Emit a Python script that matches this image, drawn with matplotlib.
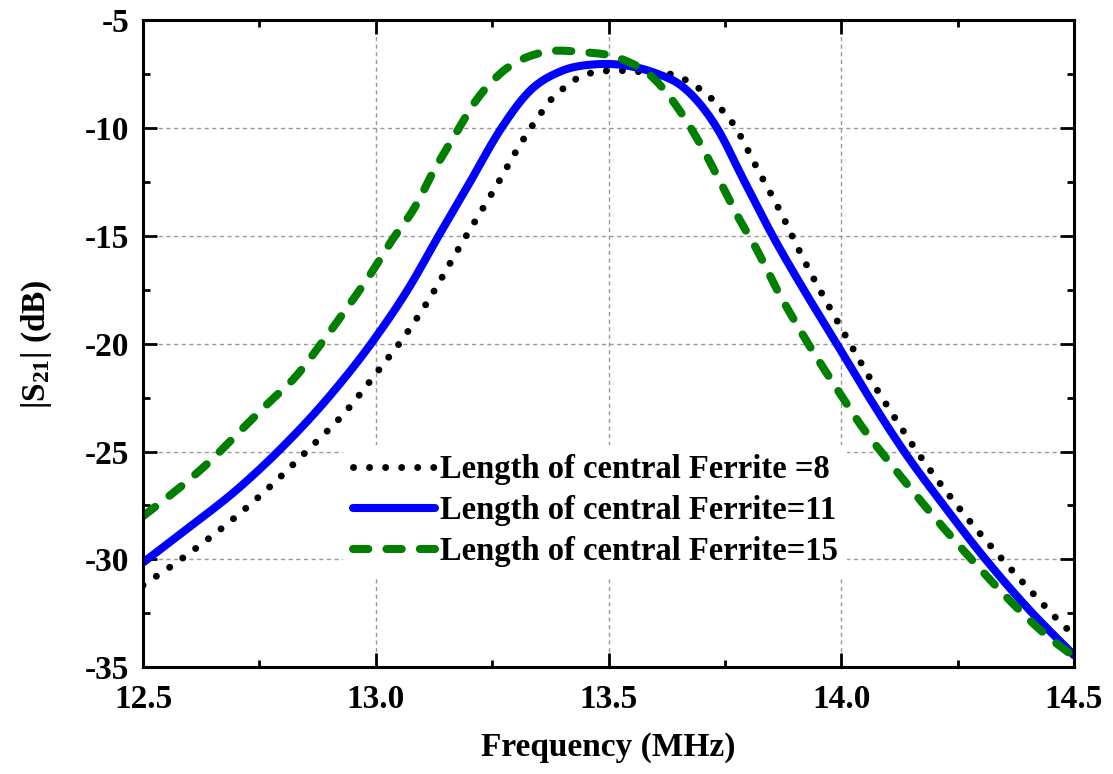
import matplotlib
matplotlib.use("Agg")
import numpy as np
import matplotlib.pyplot as plt
from matplotlib.ticker import MultipleLocator, FormatStrFormatter

plt.rcParams['font.family'] = ['Liberation Serif', 'DejaVu Serif']
plt.rcParams['font.weight'] = 'bold'
plt.rcParams['mathtext.fontset'] = 'custom'
plt.rcParams['mathtext.rm'] = 'Liberation Serif:bold'
plt.rcParams['mathtext.it'] = 'Liberation Serif:bold'
plt.rcParams['mathtext.bf'] = 'Liberation Serif:bold'

# values
freq_8 = [12.500, 12.562, 12.622, 12.680, 12.736, 12.792, 12.846, 12.900, 12.923,
          12.998, 13.067, 13.127, 13.166, 13.260, 13.316, 13.336, 13.357, 13.378,
          13.407, 13.439, 13.475, 13.514, 13.585, 13.626, 13.658, 13.690, 13.718,
          13.744, 13.768, 13.821, 13.875, 13.907, 14.012, 14.068, 14.088, 14.169,
          14.259, 14.354, 14.429, 14.481, 14.500]
s21_8 = [-31.2, -30.3, -29.35, -28.37, -27.35, -26.24, -25.1, -23.96, -23.45,
         -21.46, -19.5, -17.5, -16.03, -12.65, -10.56, -9.9, -9.25, -8.65,
         -8.1, -7.62, -7.4, -7.34, -7.42, -7.47, -7.69, -8.1, -8.57,
         -9.17, -9.82, -11.95, -14.13, -15.57, -19.74, -21.83, -22.52, -25.2,
         -27.78, -30.2, -31.98, -33.14, -33.5]

freq_11 = [12.500, 12.600, 12.700, 12.790, 12.900, 13.000, 13.070, 13.135, 13.200,
           13.270, 13.330, 13.400, 13.470, 13.550, 13.600, 13.660, 13.733, 13.790,
           13.850, 13.918, 13.990, 14.060, 14.135, 14.220, 14.310, 14.400, 14.500]
s21_11 = [-30.15, -28.5, -26.8, -25.0, -22.45, -19.7, -17.45, -15.0, -12.6,
          -10.0, -8.3, -7.35, -7.05, -7.15, -7.45, -8.1, -10.0, -12.4,
          -14.9, -17.45, -20.0, -22.5, -25.0, -27.5, -30.0, -32.25, -34.45]

freq_15 = [12.500, 12.580, 12.644, 12.704, 12.769, 12.827, 12.885, 12.938, 12.988,
           13.035, 13.084, 13.123, 13.170, 13.213, 13.271, 13.353, 13.443, 13.525,
           13.596, 13.652, 13.701, 13.740, 13.779, 13.820, 13.862, 13.905, 13.948,
           13.997, 14.042, 14.096, 14.152, 14.206, 14.263, 14.322, 14.380, 14.446,
           14.500]
s21_15 = [-28.0, -26.65, -25.45, -24.15, -22.76, -21.55, -19.93, -18.35, -16.8,
          -15.2, -13.67, -12.05, -10.33, -8.8, -7.41, -6.52, -6.48, -6.78,
          -7.68, -9.17, -10.9, -12.5, -14.15, -15.7, -17.5, -19.14, -20.67,
          -22.3, -23.78, -25.3, -26.8, -28.2, -29.6, -31.0, -32.3, -33.62,
          -34.5]

labels = ['Length of central Ferrite =8',
          'Length of central Ferrite=11',
          'Length of central Ferrite=15']


def smooth(x, y, n=12):
    # cubic hermite between the read points, only to draw a smooth line
    x = np.asarray(x, float)
    y = np.asarray(y, float)
    m = np.gradient(y, x)
    xs, ys = [], []
    for i in range(len(x) - 1):
        h = x[i + 1] - x[i]
        t = np.linspace(0, 1, n, endpoint=False)
        h00 = 2 * t**3 - 3 * t**2 + 1
        h10 = t**3 - 2 * t**2 + t
        h01 = -2 * t**3 + 3 * t**2
        h11 = t**3 - t**2
        xs.append(x[i] + t * h)
        ys.append(h00 * y[i] + h10 * h * m[i] + h01 * y[i + 1] + h11 * h * m[i + 1])
    xs.append([x[-1]])
    ys.append([y[-1]])
    return np.concatenate(xs), np.concatenate(ys)


fig = plt.figure(figsize=(11.13, 7.74), dpi=100)
ax = fig.add_axes([0.1285, 0.138, 0.8365, 0.836])

ax.plot(*smooth(freq_8, s21_8), color='black', lw=5, linestyle=(0, (0.01, 2.3)),
        dash_capstyle='round', label=labels[0])
ax.plot(*smooth(freq_11, s21_11), color='#0000ff', lw=5.8, solid_capstyle='round',
        label=labels[1])
ax.plot(*smooth(freq_15, s21_15), color='#007f00', lw=5.8, linestyle=(0, (1.9, 2.25)),
        dash_capstyle='round', label=labels[2])

ax.set_xlim(12.5, 14.5)
ax.set_ylim(-35, -5)
ax.xaxis.set_major_locator(MultipleLocator(0.5))
ax.xaxis.set_minor_locator(MultipleLocator(0.25))
ax.yaxis.set_major_locator(MultipleLocator(5))
ax.yaxis.set_minor_locator(MultipleLocator(2.5))
ax.xaxis.set_major_formatter(FormatStrFormatter('%.1f'))
ax.yaxis.set_major_formatter(FormatStrFormatter('%d'))

ax.grid(True, which='major', color='#999999', linestyle=(0, (3, 2.5)), lw=1)
ax.set_axisbelow(True)
for sp in ax.spines.values():
    sp.set_linewidth(2.2)
ax.tick_params(which='both', direction='in', top=True, right=True, width=2, labelsize=24)
ax.tick_params(which='major', length=10)
ax.tick_params(which='minor', length=5)
ax.tick_params(axis='x', pad=12)
ax.tick_params(axis='y', pad=10)

ax.set_xlabel('Frequency (MHz)', fontsize=24, fontweight='bold', labelpad=12)
ax.set_ylabel('|S$_{21}$| (dB)', fontsize=24, fontweight='bold', labelpad=22)

leg = ax.legend(loc='lower left', bbox_to_anchor=(0.1975, 0.1145), fontsize=23.5,
                handlelength=2.5, handletextpad=0.15, labelspacing=0.3,
                borderpad=0.3, frameon=True, fancybox=False)
leg.get_frame().set_edgecolor('none')
leg.get_frame().set_facecolor('white')
leg.get_frame().set_alpha(1)

fig.savefig('out.png', dpi=100)
